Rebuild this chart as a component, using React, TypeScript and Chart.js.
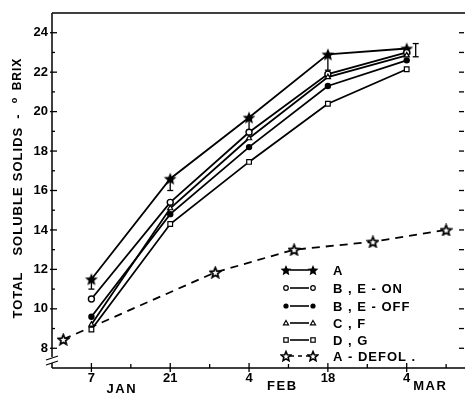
import React, { useEffect, useRef } from 'react';
import { Chart, registerables } from 'chart.js';

Chart.register(...registerables);

// ---- data (day of year: Jan 7 = 7, Jan 21 = 21, Feb 4 = 35, Feb 18 = 49, Mar 4 = 63)
const DAYS = [7, 21, 35, 49, 63];
const SERIES_A = [11.5, 16.6, 19.7, 22.9, 23.2];
const SERIES_BE_ON = [10.5, 15.4, 18.95, 21.9, 23.0];
const SERIES_BE_OFF = [9.6, 14.8, 18.2, 21.3, 22.6];
const SERIES_CF = [9.2, 15.1, 18.65, 21.75, 22.85];
const SERIES_DG = [8.95, 14.3, 17.45, 20.4, 22.15];
const DEFOL_DAYS = [2, 29, 43, 57, 70];
const SERIES_DEFOL = [8.45, 11.85, 13.0, 13.4, 14.0];
const A_ERR_LOW = [11.0, 16.0, 19.05, 22.1, null];
const MAR_ERR_DAY = 63;
const MAR_ERR = [22.78, 23.45];

const X_TICKS = [7, 14, 21, 28, 35, 42, 49, 56, 63, 70];
const X_LABELS: Record<number, string> = { 7: '7', 21: '21', 35: '4', 49: '18', 63: '4' };
const Y_LABELS = [8, 10, 12, 14, 16, 18, 20, 22, 24];
const MONTHS = [
  { day: 12.4, label: 'JAN' },
  { day: 40.9, label: 'FEB' },
  { day: 67.2, label: 'MAR' },
];
const LEGEND_LABELS = ['A', 'B , E - ON', 'B , E - OFF', 'C , F', 'D , G', 'A - DEFOL .'];

const FONT = '"Liberation Sans", Arial, sans-serif';

function makeStar(filled: boolean, size: number, lw: number) {
  const c = document.createElement('canvas');
  c.width = size;
  c.height = size;
  const g = c.getContext('2d')!;
  const cx = size / 2;
  const cy = size / 2 + 0.6;
  const R = size / 2 - (filled ? 0.3 : lw / 2 + 0.2);
  const r = R * 0.45;
  g.beginPath();
  for (let i = 0; i < 10; i++) {
    const ang = -Math.PI / 2 + (i * Math.PI) / 5;
    const rad = i % 2 === 0 ? R : r;
    g.lineTo(cx + rad * Math.cos(ang), cy + rad * Math.sin(ang));
  }
  g.closePath();
  if (filled) {
    g.fillStyle = '#000';
    g.fill();
  } else {
    g.fillStyle = '#fff';
    g.fill();
    g.lineWidth = lw;
    g.lineJoin = 'miter';
    g.strokeStyle = '#000';
    g.stroke();
  }
  return c;
}

export default function App() {
  const ref = useRef<HTMLCanvasElement>(null);

  useEffect(() => {
    const canvas = ref.current!;
    const filledStar = makeStar(true, 14, 0);
    const openStar = makeStar(false, 13, 1.7);
    const filledStarSm = makeStar(true, 12, 0);
    const openStarSm = makeStar(false, 12, 1.6);

    const pts = (xs: number[], ys: number[]) => xs.map((x, i) => ({ x, y: ys[i] }));

    const deco = {
      id: 'deco',
      beforeDatasetsDraw(chart: any) {
        const { ctx, chartArea: ca, scales } = chart;
        const x = scales.x;
        const y = scales.y;
        const W = chart.width;
        const seg = (x1: number, y1: number, x2: number, y2: number) => {
          ctx.beginPath();
          ctx.moveTo(x1, y1);
          ctx.lineTo(x2, y2);
          ctx.stroke();
        };
        ctx.save();
        ctx.strokeStyle = '#000';
        ctx.lineWidth = 1.5;
        // frame
        seg(ca.left, ca.top, W, ca.top);
        seg(ca.left, ca.bottom, W, ca.bottom);
        seg(ca.left, ca.top, ca.left, ca.bottom - 11);
        seg(ca.left, ca.bottom - 5, ca.left, ca.bottom);
        // axis break
        ctx.lineWidth = 1.2;
        seg(ca.left - 6, ca.bottom - 8, ca.left + 6, ca.bottom - 12);
        seg(ca.left - 6, ca.bottom - 3, ca.left + 6, ca.bottom - 7);
        ctx.lineWidth = 1.3;
        // left ticks
        for (let v = 8; v <= 24; v++) {
          const py = y.getPixelForValue(v);
          if (v % 2 === 0) seg(ca.left - 2, py, ca.left + 5, py);
          else seg(ca.left, py, ca.left + 3, py);
        }
        // right ticks
        for (let v = 8; v <= 24; v++) {
          const py = y.getPixelForValue(v);
          seg(ca.right - 4, py, ca.right + 1, py);
        }
        // x ticks
        X_TICKS.forEach((d) => {
          const px = x.getPixelForValue(d);
          if (X_LABELS[d] !== undefined) seg(px, ca.bottom - 5, px, ca.bottom + 4);
          else seg(px, ca.bottom - 4, px, ca.bottom);
        });
        // error bars for A
        ctx.lineWidth = 1.3;
        DAYS.forEach((d, i) => {
          const lo = A_ERR_LOW[i];
          if (lo == null) return;
          const px = x.getPixelForValue(d);
          const py1 = y.getPixelForValue(SERIES_A[i]);
          const py2 = y.getPixelForValue(lo);
          seg(px, py1, px, py2);
          seg(px - 3, py2, px + 3, py2);
        });
        {
          const px = x.getPixelForValue(MAR_ERR_DAY) + 9;
          const p1 = y.getPixelForValue(MAR_ERR[0]);
          const p2 = y.getPixelForValue(MAR_ERR[1]);
          seg(px, p1, px, p2);
          seg(px - 3, p1, px + 3, p1);
          seg(px - 3, p2, px + 3, p2);
        }
        ctx.restore();
      },
      afterDatasetsDraw(chart: any) {
        const { ctx, scales } = chart;
        const x = scales.x;
        ctx.save();
        ctx.fillStyle = '#000';
        ctx.strokeStyle = '#000';
        // month labels
        ctx.font = `bold 13px ${FONT}`;
        (ctx as any).letterSpacing = '1.5px';
        ctx.textAlign = 'center';
        ctx.textBaseline = 'middle';
        MONTHS.forEach((m, i) => {
          ctx.fillText(m.label, x.getPixelForValue(m.day), i === 0 ? 389 : 386);
        });
        // y title
        ctx.save();
        ctx.translate(18, 0);
        ctx.rotate(-Math.PI / 2);
        (ctx as any).letterSpacing = '1px';
        const word = (t: string, cy: number, size = 13) => {
          ctx.font = `bold ${size}px ${FONT}`;
          ctx.fillText(t, -cy, 0);
        };
        word('TOTAL', 295);
        word('SOLUBLE', 221);
        word('SOLIDS', 154);
        word('-', 116);
        ctx.font = `bold 9px ${FONT}`;
        ctx.fillText('o', -100, -3);
        word('BRIX', 74, 12);
        ctx.restore();
        // legend
        const rows = [270, 288, 306, 323, 340, 356];
        const x1 = 286;
        const x2 = 313;
        ctx.font = `bold 13px ${FONT}`;
        (ctx as any).letterSpacing = '1px';
        ctx.textAlign = 'left';
        rows.forEach((ry, i) => {
          ctx.lineWidth = 1.6;
          ctx.setLineDash(i === 5 ? [4, 4] : []);
          ctx.beginPath();
          ctx.moveTo(x1 + 4, ry);
          ctx.lineTo(x2 - 4, ry);
          ctx.stroke();
          ctx.setLineDash([]);
          [x1, x2].forEach((mx) => {
            ctx.lineWidth = 1.2;
            if (i === 0) ctx.drawImage(filledStarSm, mx - 6, ry - 6);
            else if (i === 5) ctx.drawImage(openStarSm, mx - 6, ry - 6);
            else if (i === 1) {
              ctx.beginPath();
              ctx.arc(mx, ry, 2.3, 0, Math.PI * 2);
              ctx.fillStyle = '#fff';
              ctx.fill();
              ctx.stroke();
            } else if (i === 2) {
              ctx.beginPath();
              ctx.arc(mx, ry, 2.6, 0, Math.PI * 2);
              ctx.fillStyle = '#000';
              ctx.fill();
            } else if (i === 3) {
              ctx.beginPath();
              ctx.moveTo(mx, ry - 2.5);
              ctx.lineTo(mx + 2.5, ry + 1.8);
              ctx.lineTo(mx - 2.5, ry + 1.8);
              ctx.closePath();
              ctx.fillStyle = '#fff';
              ctx.fill();
              ctx.stroke();
            } else if (i === 4) {
              ctx.fillStyle = '#fff';
              ctx.fillRect(mx - 2.2, ry - 2.2, 4.4, 4.4);
              ctx.strokeRect(mx - 2.2, ry - 2.2, 4.4, 4.4);
            }
          });
          ctx.fillStyle = '#000';
          ctx.fillText(LEGEND_LABELS[i], 333, ry + 1);
        });
        ctx.restore();
      },
    };

    const lineBase = {
      borderColor: '#000',
      borderWidth: 1.8,
      tension: 0,
      fill: false,
      pointBorderColor: '#000',
    };

    const chart = new Chart(canvas, {
      type: 'line',
      data: {
        datasets: [
          {
            ...lineBase,
            label: 'D, G',
            data: pts(DAYS, SERIES_DG),
            pointStyle: 'rect',
            pointRadius: 3.3,
            pointBackgroundColor: '#fff',
            pointBorderWidth: 1.2,
          },
          {
            ...lineBase,
            label: 'C, F',
            data: pts(DAYS, SERIES_CF),
            pointStyle: 'triangle',
            pointRadius: 3,
            pointBackgroundColor: '#fff',
            pointBorderWidth: 1.2,
          },
          {
            ...lineBase,
            label: 'B, E - OFF',
            data: pts(DAYS, SERIES_BE_OFF),
            pointStyle: 'circle',
            pointRadius: 3.2,
            pointBackgroundColor: '#000',
            pointBorderWidth: 0,
          },
          {
            ...lineBase,
            label: 'B, E - ON',
            data: pts(DAYS, SERIES_BE_ON),
            pointStyle: 'circle',
            pointRadius: 3,
            pointBackgroundColor: '#fff',
            pointBorderWidth: 1.4,
          },
          {
            ...lineBase,
            label: 'A',
            data: pts(DAYS, SERIES_A),
            pointStyle: filledStar as any,
            pointRadius: 7,
          },
          {
            ...lineBase,
            label: 'A - DEFOL.',
            data: pts(DEFOL_DAYS, SERIES_DEFOL),
            borderDash: [8, 6],
            pointStyle: openStar as any,
            pointRadius: 7,
          },
        ],
      },
      options: {
        responsive: false,
        animation: false,
        devicePixelRatio: 1,
        layout: { autoPadding: false, padding: { top: 13, right: 2, left: 0, bottom: 0 } },
        plugins: {
          legend: { display: false },
          tooltip: { enabled: false },
        },
        scales: {
          x: {
            type: 'linear',
            min: 0,
            max: 73,
            grid: { display: false, drawTicks: false },
            border: { display: false },
            afterBuildTicks: (s: any) => {
              s.ticks = X_TICKS.map((v) => ({ value: v }));
            },
            afterFit: (s: any) => {
              s.height = 27;
              s.paddingLeft = 0;
              s.paddingRight = 0;
            },
            ticks: {
              autoSkip: false,
              maxRotation: 0,
              padding: 3,
              color: '#000',
              font: { family: FONT, size: 13, weight: 'bold' },
              callback: (v: any) => X_LABELS[v as number] ?? '',
            },
          },
          y: {
            type: 'linear',
            min: 7,
            max: 25,
            grid: { display: false, drawTicks: false },
            border: { display: false },
            afterBuildTicks: (s: any) => {
              s.ticks = Y_LABELS.map((v) => ({ value: v }));
            },
            afterFit: (s: any) => {
              s.width = 52;
              s.paddingTop = 0;
              s.paddingBottom = 0;
            },
            ticks: {
              autoSkip: false,
              padding: 4,
              color: '#000',
              font: { family: FONT, size: 13, weight: 'bold' },
              callback: (v: any) => String(v),
            },
          },
        },
      } as any,
      plugins: [deco],
    });
    return () => chart.destroy();
  }, []);

  return (
    <div style={{ position: 'absolute', left: 0, top: 0, width: 465, height: 395, background: '#fff' }}>
      <canvas ref={ref} width={465} height={395} style={{ display: 'block' }} />
    </div>
  );
}
